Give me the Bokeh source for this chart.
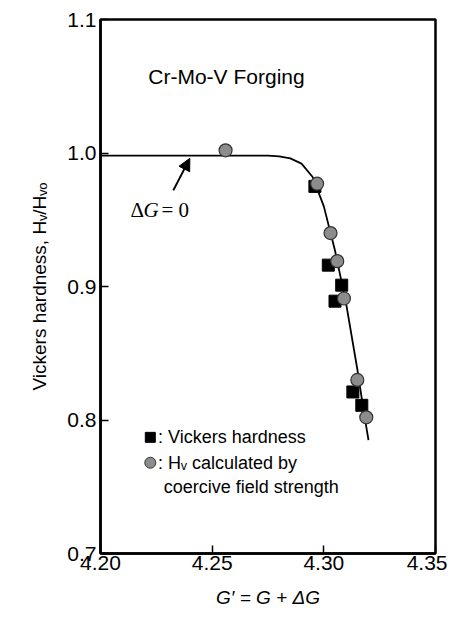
from bokeh.plotting import figure
from bokeh.models import Range1d, FixedTicker, Label, Arrow, NormalHead
from bokeh.embed import file_html
from bokeh.resources import INLINE

# Data
vh_g = [4.296, 4.302, 4.305, 4.308, 4.313, 4.317]
vh_r = [0.975, 0.916, 0.889, 0.901, 0.821, 0.811]
cf_g = [4.256, 4.297, 4.303, 4.306, 4.309, 4.315, 4.319]
cf_r = [1.002, 0.977, 0.940, 0.919, 0.891, 0.830, 0.802]
fit_g = [4.20, 4.25, 4.275, 4.28, 4.285, 4.29, 4.295, 4.30, 4.305, 4.31, 4.315, 4.318, 4.320]
fit_r = [0.998, 0.998, 0.998, 0.9975, 0.996, 0.992, 0.982, 0.960, 0.927, 0.887, 0.838, 0.805, 0.785]
x_ticks = [4.20, 4.25, 4.30, 4.35]
y_ticks = [0.7, 0.8, 0.9, 1.0, 1.1]

FONT = "Liberation Sans"

p = figure(width=447, height=610, output_backend="svg", toolbar_location=None,
           x_range=Range1d(4.20, 4.35), y_range=Range1d(0.7, 1.1),
           min_border_left=100, min_border_right=12, min_border_top=19, min_border_bottom=56)
p.grid.visible = False
p.background_fill_color = "white"
p.outline_line_color = "black"
p.outline_line_width = 2.5

p.xaxis.ticker = FixedTicker(ticks=x_ticks)
p.yaxis.ticker = FixedTicker(ticks=y_ticks)
p.xaxis.major_label_overrides = {t: f"{t:.2f}" for t in x_ticks}
p.yaxis.major_label_overrides = {t: f"{t:.1f}" for t in y_ticks}
for ax in (p.xaxis, p.yaxis):
    ax.major_tick_in = 8
    ax.major_tick_out = 0
    ax.minor_tick_line_color = None
    ax.axis_line_width = 2.5
    ax.major_tick_line_width = 1.5
    ax.major_label_text_font = FONT
    ax.major_label_text_font_size = "21px"
    ax.major_label_text_color = "black"
    ax.axis_label_text_font = FONT
    ax.axis_label_text_font_size = "19px"
    ax.axis_label_text_font_style = "normal"
    ax.axis_label_text_color = "black"
p.yaxis.major_label_standoff = 4
p.xaxis.major_label_standoff = 2
p.xaxis.axis_label = "G\u2032 = G + \u0394G"
p.xaxis.axis_label_text_font_style = "italic"
p.xaxis.axis_label_standoff = 14
p.yaxis.axis_label = "Vickers hardness, H\u1d65/H\u1d65\u2092"
p.yaxis.axis_label_standoff = 14

p.line(fit_g, fit_r, line_color="black", line_width=1.8)
p.scatter(vh_g, vh_r, marker="square", size=12, fill_color="black", line_color="black")
p.scatter(cf_g, cf_r, marker="circle", size=13, fill_color="#8c8c8c", line_color="#333333", line_width=1.2)

p.add_layout(Label(x=4.2214, y=1.057, text="Cr-Mo-V Forging", text_font=FONT,
                   text_font_size="21px", text_baseline="middle", text_color="black"))
p.add_layout(Arrow(x_start=4.2326, y_start=0.972, x_end=4.2400, y_end=0.996,
                   line_width=2, line_color="black",
                   end=NormalHead(size=12, fill_color="black", line_color="black")))
SERIF = "Liberation Serif"
p.add_layout(Label(x=4.2134, y=0.957, text="\u0394", text_font=SERIF,
                   text_font_size="21px", text_baseline="middle", text_color="black"))
p.add_layout(Label(x=4.2134, y=0.957, x_offset=13, text="G", text_font=SERIF,
                   text_font_size="21px", text_font_style="italic", text_baseline="middle", text_color="black"))
p.add_layout(Label(x=4.2134, y=0.957, x_offset=31, text="= 0", text_font=SERIF,
                   text_font_size="21px", text_baseline="middle", text_color="black"))

leg_x = [4.2223, 4.2223]
leg_y = [0.787, 0.768]
p.scatter([leg_x[0]], [leg_y[0]], marker="square", size=10, fill_color="black", line_color="black")
p.scatter([leg_x[1]], [leg_y[1]], marker="circle", size=11, fill_color="#8c8c8c", line_color="#333333")
p.add_layout(Label(x=4.2258, y=0.787, text=": Vickers hardness", text_font=FONT,
                   text_font_size="18px", text_baseline="middle", text_color="black"))
p.add_layout(Label(x=4.2258, y=0.768, text=": H\u1d65 calculated by", text_font=FONT,
                   text_font_size="18px", text_baseline="middle", text_color="black"))
p.add_layout(Label(x=4.2283, y=0.750, text="coercive field strength", text_font=FONT,
                   text_font_size="18px", text_baseline="middle", text_color="black"))

open("out.html", "w").write(file_html(p, INLINE))
